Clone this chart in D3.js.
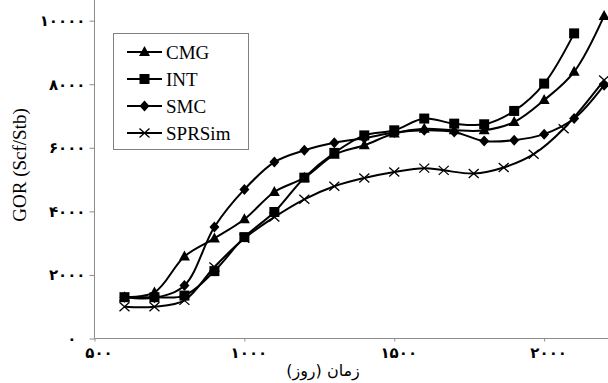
<!DOCTYPE html>
<html>
<head>
<meta charset="utf-8">
<script src="https://cdn.jsdelivr.net/npm/d3@7"></script>
<style>
  body { margin: 0; background: #fff; }
  svg text { font-family: "Liberation Serif", "Times New Roman", serif; fill: #000; }
  .axis .tick text { font-family: "DejaVu Sans", sans-serif; font-size: 15px; font-weight: bold; }
  .axis path, .axis line { stroke: #8c8c8c; }
</style>
</head>
<body>
<div id="chart"></div>
<script>
// day of each sample (x) and GOR values (y)
const cmgDays = [600, 700, 800, 900, 1000, 1100, 1200, 1300, 1400, 1500, 1600, 1700, 1800, 1900, 2000, 2100, 2200];
const cmgGor  = [1300, 1450, 2580, 3150, 3750, 4610, 5060, 5780, 6080, 6450, 6600, 6550, 6550, 6810, 7500, 8390, 10150];

const intDays = [600, 700, 800, 900, 1000, 1100, 1200, 1300, 1400, 1500, 1600, 1700, 1800, 1900, 2000, 2100];
const intGor  = [1300, 1300, 1350, 2120, 3190, 3980, 5060, 5840, 6390, 6550, 6920, 6760, 6740, 7160, 8020, 9600];

const smcDays = [600, 700, 800, 900, 1000, 1100, 1200, 1300, 1400, 1500, 1600, 1700, 1800, 1900, 2000, 2100, 2200];
const smcGor  = [1300, 1280, 1670, 3510, 4690, 5550, 5920, 6160, 6300, 6480, 6550, 6500, 6210, 6240, 6430, 6920, 7970];

const sprDays = [600, 700, 800, 900, 1000, 1100, 1200, 1300, 1400, 1500, 1600, 1665, 1765, 1865, 1965, 2065, 2200];
const sprGor  = [1000, 1000, 1200, 2250, 3150, 3820, 4380, 4790, 5050, 5240, 5360, 5290, 5190, 5380, 5800, 6600, 8130];

const seriesNames = ["CMG", "INT", "SMC", "SPRSim"];
const seriesMarkers = ["triangle", "square", "diamond", "cross"];
const xTicks = [500, 1000, 1500, 2000];
const yTicks = [0, 2000, 4000, 6000, 8000, 10000];
const xTitle = "زمان (روز)";
const yTitle = "GOR (Scf/Stb)";

const series = [
  { name: seriesNames[0], marker: seriesMarkers[0], days: cmgDays, gor: cmgGor },
  { name: seriesNames[1], marker: seriesMarkers[1], days: intDays, gor: intGor },
  { name: seriesNames[2], marker: seriesMarkers[2], days: smcDays, gor: smcGor },
  { name: seriesNames[3], marker: seriesMarkers[3], days: sprDays, gor: sprGor }
];

const width = 608, height = 383;
const faDigits = "۰۱۲۳۴۵۶۷۸۹";
const toFa = d => String(d).replace(/\d/g, c => faDigits[c]);

const svg = d3.select("#chart").append("svg")
  .attr("width", width)
  .attr("height", height);

const x = d3.scaleLinear().domain([500, 2213]).range([94.5, 608]);
const y = d3.scaleLinear().domain([0, 10650]).range([338.5, 0]);

// axes
const gx = svg.append("g")
  .attr("class", "axis")
  .attr("transform", "translate(0,338.5)")
  .call(d3.axisBottom(x).tickValues(xTicks).tickSize(3).tickPadding(6).tickFormat(toFa));
gx.selectAll(".tick text").attr("dx", 4);
gx.select(".domain").attr("d", "M94.5,0H608");

const gy = svg.append("g")
  .attr("class", "axis")
  .attr("transform", "translate(94.5,0)")
  .call(d3.axisLeft(y).tickValues(yTicks).tickSize(5).tickPadding(4).tickFormat(toFa));
gy.selectAll(".tick text").filter(d => d === 0).attr("dx", -9);
gy.select(".domain").attr("d", "M0,0V338.5");

// titles
svg.append("text")
  .attr("x", 323)
  .attr("y", 376)
  .attr("text-anchor", "middle")
  .attr("direction", "rtl")
  .style("font-family", "'DejaVu Sans', sans-serif")
  .style("font-size", "16px")
  .text(xTitle);

svg.append("text")
  .attr("transform", "translate(26,165) rotate(-90)")
  .attr("text-anchor", "middle")
  .style("font-size", "19px")
  .text(yTitle);

// markers
function drawMarker(g, type) {
  if (type === "triangle") {
    g.append("path").attr("d", "M0,-6L5.5,4L-5.5,4Z").attr("fill", "#000");
  } else if (type === "square") {
    g.append("rect").attr("x", -5).attr("y", -5).attr("width", 10).attr("height", 10).attr("fill", "#000");
  } else if (type === "diamond") {
    g.append("path").attr("d", "M0,-5.5L5,0L0,5.5L-5,0Z").attr("fill", "#000");
  } else {
    g.append("path").attr("d", "M-5,-4.5L5,4.5M-5,4.5L5,-4.5")
      .attr("stroke", "#000").attr("stroke-width", 1.3).attr("fill", "none");
  }
}

const line = d3.line()
  .x(d => x(d[0]))
  .y(d => y(d[1]))
  .curve(d3.curveCatmullRom.alpha(0.5));

series.forEach(s => {
  const pts = s.days.map((d, i) => [d, s.gor[i]]);
  svg.append("path")
    .datum(pts)
    .attr("d", line)
    .attr("fill", "none")
    .attr("stroke", "#000")
    .attr("stroke-width", 2);
  svg.append("g").selectAll("g")
    .data(pts)
    .enter().append("g")
    .attr("transform", d => "translate(" + x(d[0]) + "," + y(d[1]) + ")")
    .each(function () { drawMarker(d3.select(this), s.marker); });
});

// legend
const legend = svg.append("g");
legend.append("rect")
  .attr("x", 113.5).attr("y", 33.5)
  .attr("width", 135).attr("height", 116)
  .attr("fill", "#fff")
  .attr("stroke", "#808080");

series.forEach((s, i) => {
  const ly = 52 + i * 27;
  legend.append("line")
    .attr("x1", 127).attr("x2", 162)
    .attr("y1", ly).attr("y2", ly)
    .attr("stroke", "#000").attr("stroke-width", 2);
  const m = legend.append("g").attr("transform", "translate(144.5," + ly + ")");
  drawMarker(m, s.marker);
  legend.append("text")
    .attr("x", 166)
    .attr("y", ly + 6.5)
    .style("font-size", "19px")
    .text(s.name);
});
</script>
</body>
</html>
